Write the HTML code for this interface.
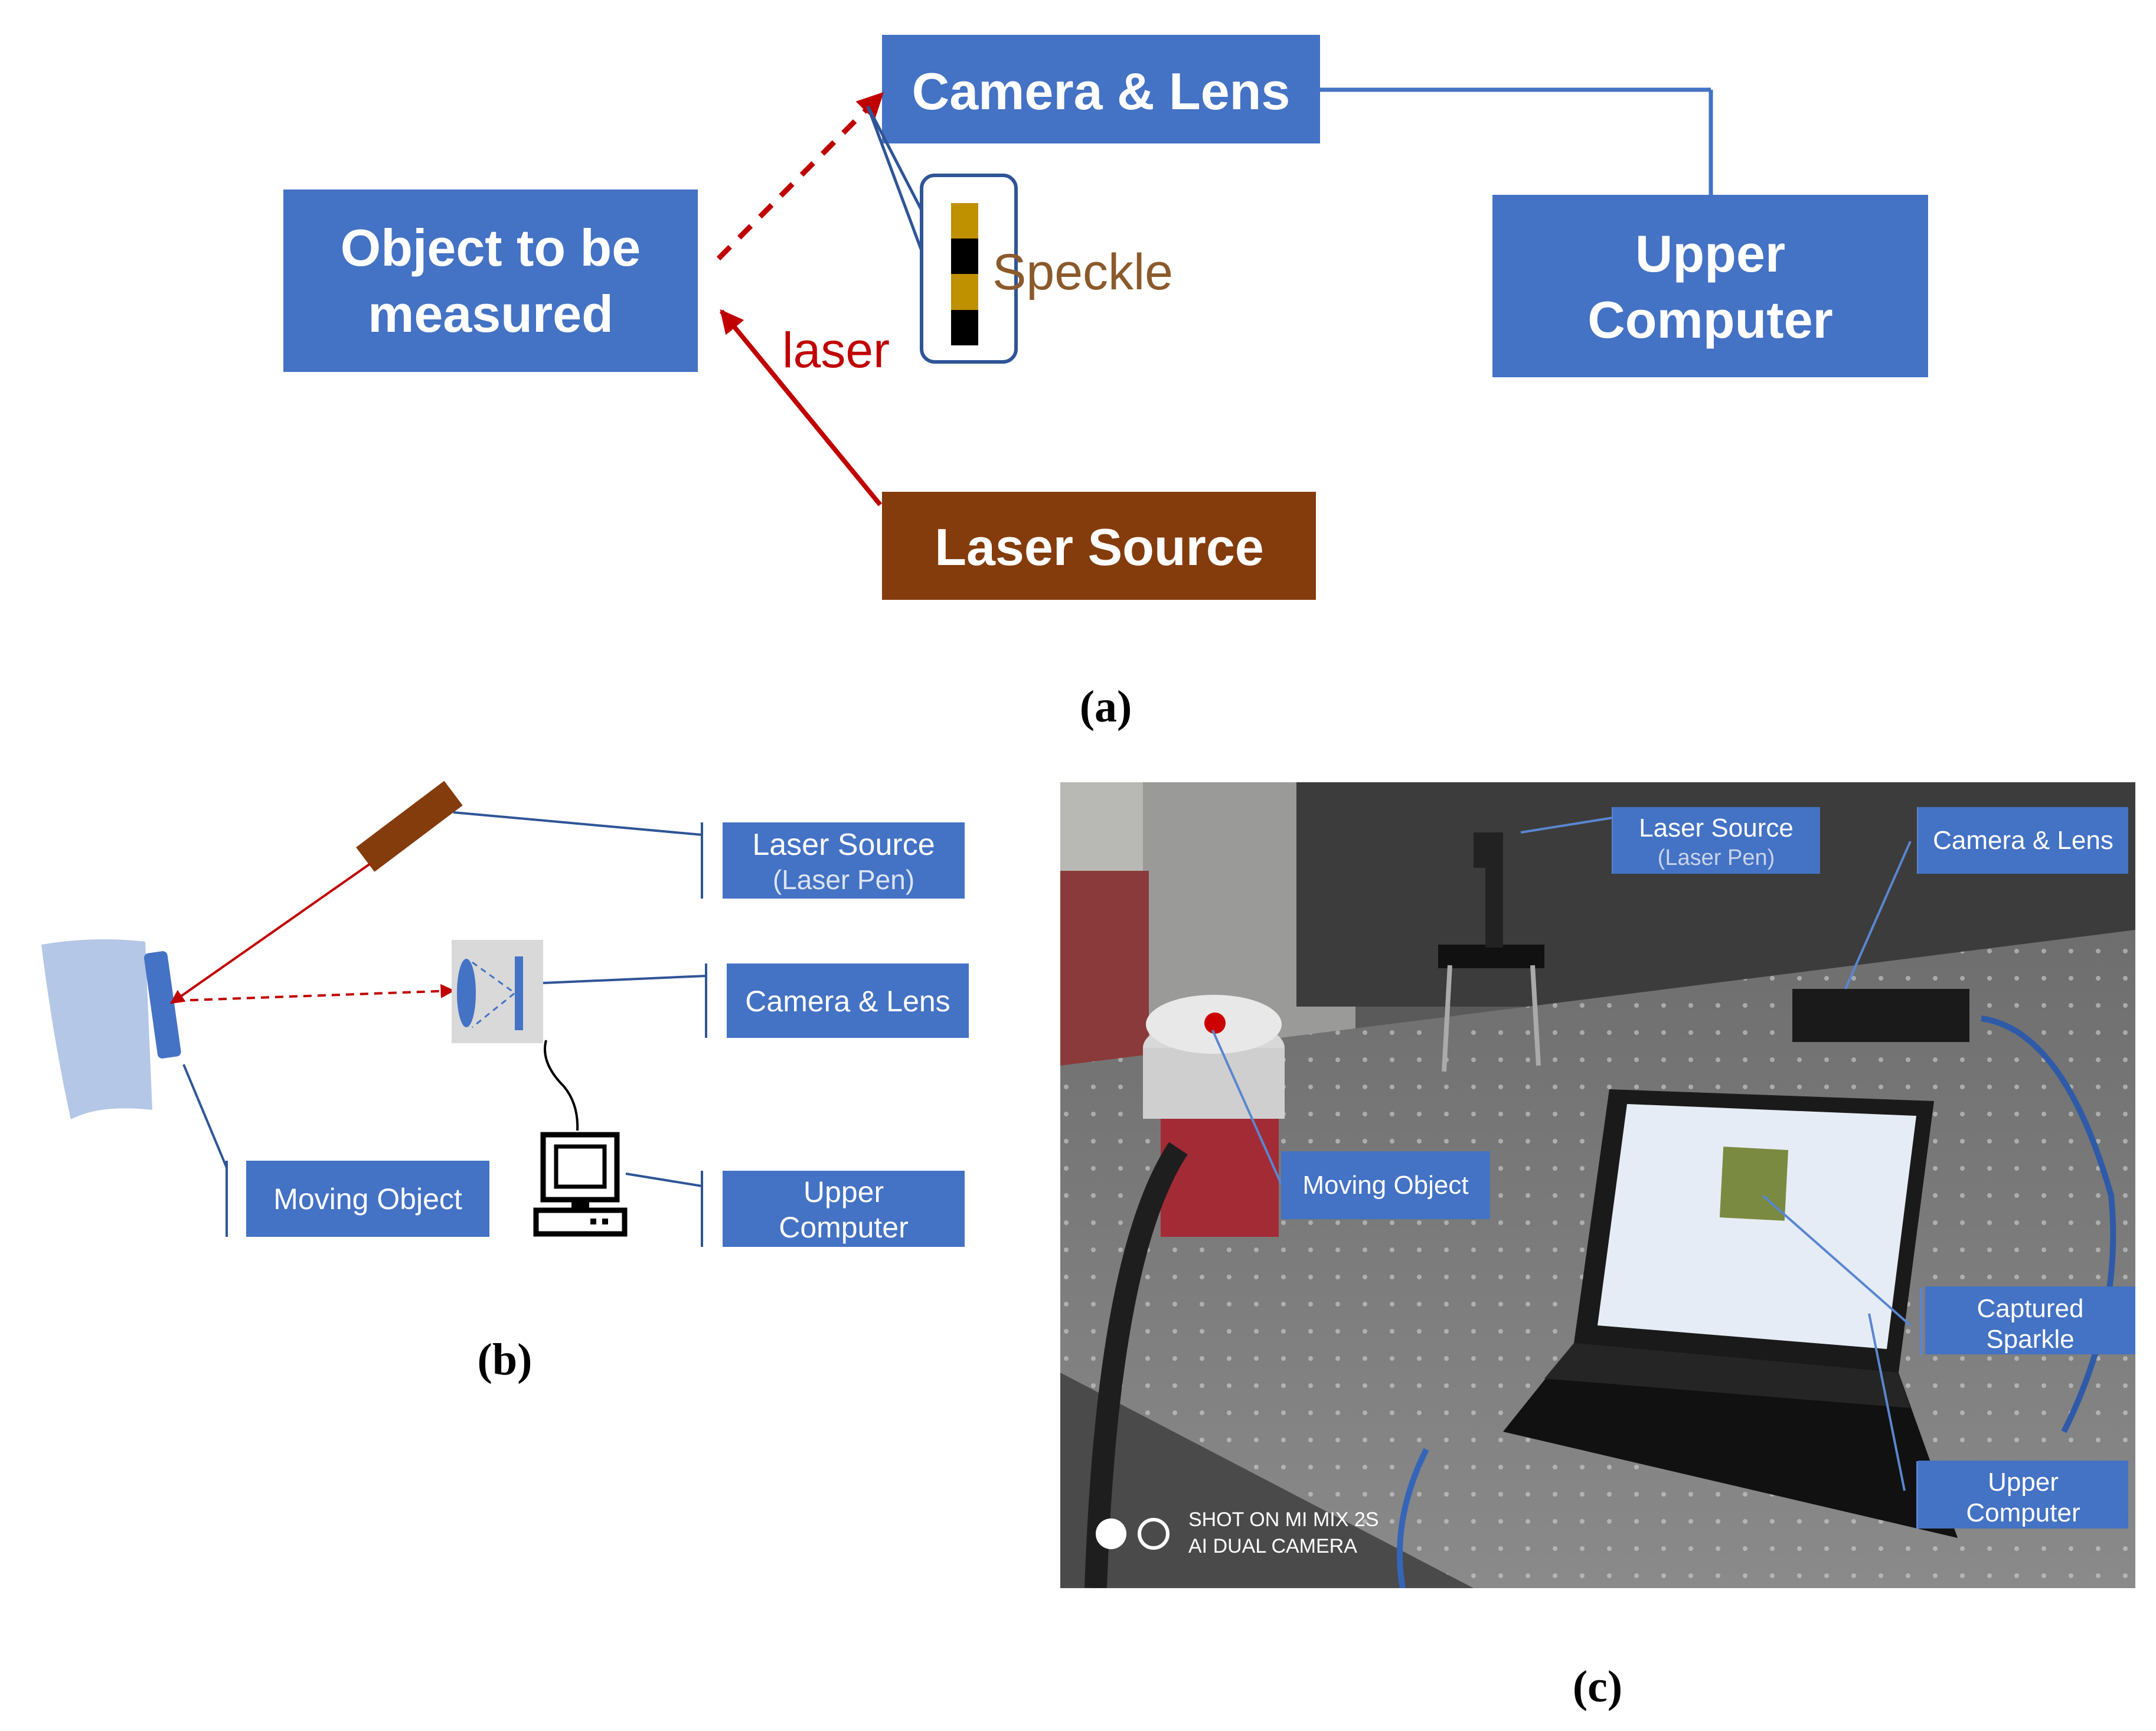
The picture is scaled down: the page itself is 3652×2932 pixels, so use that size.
<!DOCTYPE html>
<html><head><meta charset="utf-8"><style>
html,body{margin:0;padding:0;background:#fff}
svg{display:block}
text{font-family:"Liberation Sans","DejaVu Sans",sans-serif}
</style></head><body>
<svg width="3652" height="2932" viewBox="0 0 3652 2932" xmlns="http://www.w3.org/2000/svg">
<defs>
<marker id="ar" viewBox="0 0 10 10" refX="9" refY="5" markerWidth="5" markerHeight="5" orient="auto"><path d="M0,0 L10,5 L0,10 z" fill="#c00000"/></marker>
<marker id="ar2" viewBox="0 0 10 10" refX="9" refY="5" markerWidth="6" markerHeight="6" orient="auto"><path d="M0,0 L10,5 L0,10 z" fill="#c00000"/></marker>
<pattern id="dots" width="46" height="46" patternUnits="userSpaceOnUse"><circle cx="10" cy="10" r="4" fill="#d8d8d8" opacity="0.55"/></pattern>
<linearGradient id="tab" x1="0" y1="0" x2="0" y2="1"><stop offset="0" stop-color="#6e6e6e"/><stop offset="1" stop-color="#8a8a8a"/></linearGradient>
</defs>

<!-- Panel (a) -->
<line x1="2236" y1="152" x2="2898" y2="152" stroke="#4472c4" stroke-width="7"/>
<line x1="2898" y1="152" x2="2898" y2="332" stroke="#4472c4" stroke-width="7"/>
<rect x="1494" y="59" width="742" height="184" fill="#4472c4"/>
<text x="1865" y="185" font-size="88" font-weight="bold" fill="#fff" text-anchor="middle">Camera &amp; Lens</text>
<rect x="480" y="321" width="702" height="309" fill="#4472c4"/>
<text x="831" y="450" font-size="88" font-weight="bold" fill="#fff" text-anchor="middle">Object to be</text>
<text x="831" y="562" font-size="88" font-weight="bold" fill="#fff" text-anchor="middle">measured</text>
<rect x="2528" y="330" width="738" height="309" fill="#4472c4"/>
<text x="2897" y="460" font-size="88" font-weight="bold" fill="#fff" text-anchor="middle">Upper</text>
<text x="2897" y="572" font-size="88" font-weight="bold" fill="#fff" text-anchor="middle">Computer</text>
<rect x="1494" y="833" width="735" height="183" fill="#843c0c"/>
<text x="1862" y="957" font-size="88" font-weight="bold" fill="#fff" text-anchor="middle">Laser Source</text>
<line x1="1217" y1="438" x2="1494" y2="159" stroke="#c00000" stroke-width="9" stroke-dasharray="28,22" marker-end="url(#ar)"/>
<line x1="1491" y1="855" x2="1222" y2="527" stroke="#c00000" stroke-width="8" marker-end="url(#ar)"/>
<text x="1325" y="622" font-size="84" fill="#c00000">laser</text>
<!-- speckle callout -->
<path d="M1470,180 L1563,430 M1470,180 L1563,360" stroke="#2f5597" stroke-width="5" fill="none"/>
<rect x="1561" y="297" width="160" height="316" rx="22" fill="#fff" stroke="#2f5597" stroke-width="6"/>
<rect x="1611" y="344" width="46" height="60" fill="#bf9000"/>
<rect x="1611" y="404" width="46" height="60" fill="#000"/>
<rect x="1611" y="464" width="46" height="61" fill="#bf9000"/>
<rect x="1611" y="525" width="46" height="60" fill="#000"/>
<text x="1681" y="490" font-size="86" fill="#8b5a2b">Speckle</text>
<text x="1873" y="1222" font-size="76" font-weight="bold" font-family="Liberation Serif,serif" text-anchor="middle" style="font-family:'Liberation Serif',serif">(a)</text>

<!-- Panel (b) -->
<path d="M70,1600 Q160,1585 246,1595 L258,1880 Q170,1870 120,1896 Q90,1760 70,1600 Z" fill="#b4c7e7"/>
<rect x="255" y="1612" width="40" height="180" rx="8" fill="#4472c4" transform="rotate(-8 275 1700)"/>
<rect x="600" y="1374" width="187" height="52" fill="#843c0c" transform="rotate(-37 693 1400)"/>
<line x1="627" y1="1463" x2="290" y2="1699" stroke="#c00000" stroke-width="4" marker-end="url(#ar2)"/>
<line x1="298" y1="1695" x2="768" y2="1678" stroke="#c00000" stroke-width="4" stroke-dasharray="14,10" marker-end="url(#ar2)"/>
<rect x="765" y="1592" width="155" height="175" fill="#d9d9d9"/>
<ellipse cx="790" cy="1682" rx="16" ry="58" fill="#4472c4"/>
<rect x="872" y="1620" width="14" height="125" fill="#4472c4"/>
<path d="M800,1630 L872,1682 L800,1740" stroke="#4472c4" stroke-width="3" stroke-dasharray="10,8" fill="none"/>
<path d="M925,1762 Q915,1800 955,1840 Q980,1870 978,1915" stroke="#000" stroke-width="4" fill="none"/>
<!-- computer icon -->
<rect x="920" y="1922" width="125" height="110" fill="#fff" stroke="#000" stroke-width="9"/>
<rect x="942" y="1942" width="82" height="68" fill="#fff" stroke="#000" stroke-width="7"/>
<rect x="968" y="2032" width="30" height="18" fill="#000"/>
<rect x="908" y="2050" width="150" height="40" fill="#fff" stroke="#000" stroke-width="9"/>
<rect x="1000" y="2064" width="10" height="10" fill="#000"/><rect x="1020" y="2064" width="10" height="10" fill="#000"/>
<!-- leaders -->
<g stroke="#2f5597" stroke-width="4" fill="none">
<line x1="768" y1="1376" x2="1189" y2="1414"/><line x1="1189" y1="1393" x2="1189" y2="1522"/>
<line x1="920" y1="1665" x2="1196" y2="1653"/><line x1="1196" y1="1632" x2="1196" y2="1758"/>
<line x1="1060" y1="1988" x2="1189" y2="2009"/><line x1="1189" y1="1983" x2="1189" y2="2112"/>
<line x1="311" y1="1803" x2="384" y2="1978"/><line x1="384" y1="1966" x2="384" y2="2095"/>
</g>
<rect x="1224" y="1393" width="410" height="129" fill="#4472c4"/>
<text x="1429" y="1448" font-size="52" fill="#fff" text-anchor="middle">Laser Source</text>
<text x="1429" y="1506" font-size="46" fill="#dbe4f3" text-anchor="middle">(Laser Pen)</text>
<rect x="1231" y="1632" width="410" height="126" fill="#4472c4"/>
<text x="1436" y="1713" font-size="50" fill="#fff" text-anchor="middle">Camera &amp; Lens</text>
<rect x="1224" y="1983" width="410" height="129" fill="#4472c4"/>
<text x="1429" y="2036" font-size="50" fill="#fff" text-anchor="middle">Upper</text>
<text x="1429" y="2096" font-size="50" fill="#fff" text-anchor="middle">Computer</text>
<rect x="417" y="1966" width="412" height="129" fill="#4472c4"/>
<text x="623" y="2048" font-size="50" fill="#fff" text-anchor="middle">Moving Object</text>
<text x="855" y="2328" font-size="76" font-weight="bold" text-anchor="middle" style="font-family:'Liberation Serif',serif">(b)</text>

<!-- Panel (c) photo -->
<svg x="1796" y="1325" width="1821" height="1365" viewBox="0 0 1821 1365">
<rect width="1821" height="1365" fill="#5a5a5a"/>
<rect x="0" y="0" width="500" height="500" fill="#9a9a98"/>
<rect x="0" y="0" width="140" height="420" fill="#b8b8b4"/>
<rect x="0" y="150" width="150" height="330" fill="#8a3a3a"/>
<rect x="400" y="0" width="1421" height="380" fill="#3c3c3c"/>
<path d="M0,480 L1821,250 L1821,1365 L0,1365 Z" fill="url(#tab)"/>
<path d="M0,480 L1821,250 L1821,1365 L0,1365 Z" fill="url(#dots)"/>
<path d="M0,1000 L700,1365 L0,1365 Z" fill="#4a4a4a"/>
<!-- moving object -->
<ellipse cx="260" cy="450" rx="120" ry="50" fill="#d8d8d8"/>
<rect x="140" y="450" width="240" height="120" fill="#cfcfcf"/>
<ellipse cx="260" cy="410" rx="115" ry="50" fill="#e8e8e8"/>
<circle cx="262" cy="408" r="18" fill="#c00"/>
<rect x="170" y="570" width="200" height="200" fill="#a32b36"/>
<path d="M200,620 Q80,800 60,1365" stroke="#1e1e1e" stroke-width="38" fill="none"/>
<!-- laser stand -->
<rect x="640" y="275" width="180" height="40" fill="#111"/>
<rect x="720" y="140" width="30" height="140" fill="#222"/>
<rect x="700" y="85" width="50" height="60" fill="#222"/>
<line x1="660" y1="310" x2="650" y2="490" stroke="#aaa" stroke-width="8"/>
<line x1="800" y1="310" x2="810" y2="480" stroke="#aaa" stroke-width="8"/>
<!-- camera -->
<rect x="1240" y="350" width="300" height="90" fill="#1a1a1a"/>
<path d="M1560,400 Q1700,420 1780,700 Q1800,900 1700,1100" stroke="#2f5aa8" stroke-width="10" fill="none"/>
<path d="M620,1130 Q560,1250 580,1365" stroke="#3565b8" stroke-width="10" fill="none"/>
<!-- laptop -->
<path d="M930,520 L1480,540 L1420,1000 L870,950 Z" fill="#1a1a1a"/>
<path d="M960,545 L1450,565 L1400,960 L910,920 Z" fill="#e6ecf5"/>
<rect x="1120" y="620" width="110" height="120" fill="#7a8a40" transform="rotate(3 1175 680)"/>
<path d="M750,1100 L870,950 L1420,1000 L1520,1280 Z" fill="#111"/>
<path d="M870,950 L1420,1000 L1440,1060 L820,1010 Z" fill="#252525"/>
<!-- leaders -->
<g stroke="#5a86d0" stroke-width="4" fill="none">
<line x1="780" y1="85" x2="936" y2="60"/><line x1="936" y1="42" x2="936" y2="155"/>
<line x1="1330" y1="350" x2="1440" y2="100"/><line x1="1453" y1="42" x2="1453" y2="155"/>
<line x1="258" y1="420" x2="374" y2="680"/>
<line x1="1190" y1="700" x2="1440" y2="920"/><line x1="1458" y1="856" x2="1458" y2="970"/>
<line x1="1370" y1="900" x2="1430" y2="1200"/><line x1="1452" y1="1150" x2="1452" y2="1265"/>
</g>
<rect x="936" y="42" width="351" height="113" fill="#4472c4"/>
<text x="1111" y="92" font-size="44" fill="#fff" text-anchor="middle">Laser Source</text>
<text x="1111" y="140" font-size="38" fill="#c8d4ea" text-anchor="middle">(Laser Pen)</text>
<rect x="1453" y="42" width="356" height="113" fill="#4472c4"/>
<text x="1631" y="113" font-size="44" fill="#fff" text-anchor="middle">Camera &amp; Lens</text>
<rect x="374" y="625" width="354" height="115" fill="#4472c4"/>
<text x="551" y="697" font-size="44" fill="#fff" text-anchor="middle">Moving Object</text>
<rect x="1465" y="854" width="356" height="115" fill="#4472c4"/>
<text x="1643" y="906" font-size="44" fill="#fff" text-anchor="middle">Captured</text>
<text x="1643" y="958" font-size="44" fill="#fff" text-anchor="middle">Sparkle</text>
<rect x="1453" y="1149" width="356" height="115" fill="#4472c4"/>
<text x="1631" y="1200" font-size="44" fill="#fff" text-anchor="middle">Upper</text>
<text x="1631" y="1252" font-size="44" fill="#fff" text-anchor="middle">Computer</text>
<circle cx="86" cy="1273" r="26" fill="#fff"/>
<circle cx="158" cy="1273" r="24" fill="none" stroke="#fff" stroke-width="6"/>
<text x="217" y="1260" font-size="34" fill="#fff">SHOT ON MI MIX 2S</text>
<text x="217" y="1305" font-size="34" fill="#fff">AI DUAL CAMERA</text>
</svg>
<text x="2706" y="2882" font-size="76" font-weight="bold" text-anchor="middle" style="font-family:'Liberation Serif',serif">(c)</text>
</svg>
</body></html>
